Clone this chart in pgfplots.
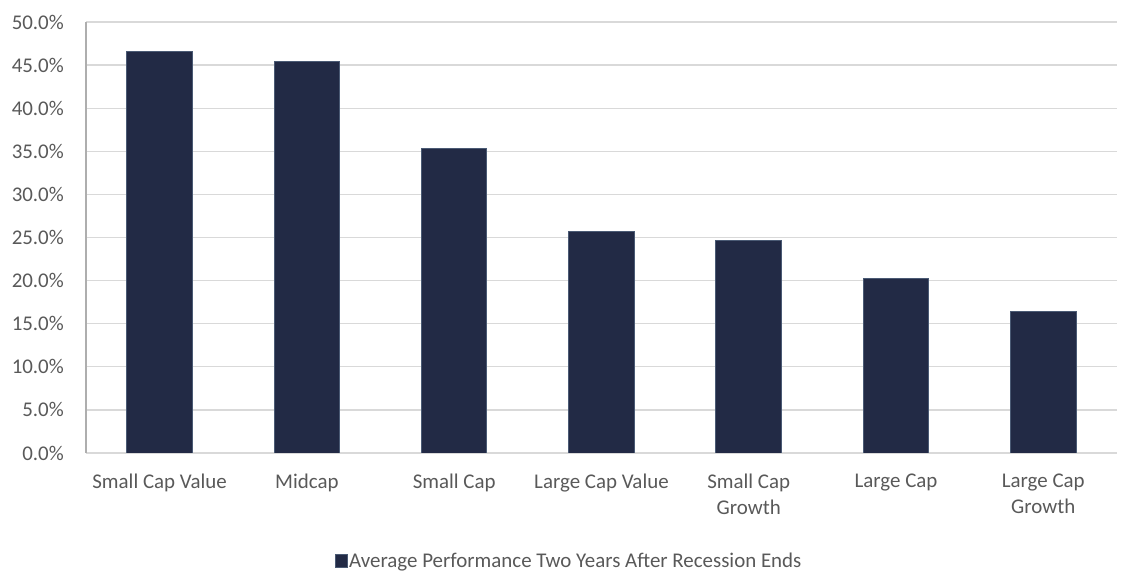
\documentclass[border=0pt]{standalone}
\usepackage{pgfplots}
\pgfplotsset{compat=1.18}
\usepackage{fontspec}
\setmainfont{Carlito}
\definecolor{barfill}{HTML}{222A45}
\definecolor{baredge}{HTML}{4A5A74}
\definecolor{gridc}{HTML}{D9D9D9}
\definecolor{txt}{HTML}{595959}
\begin{document}
\begin{tikzpicture}
\useasboundingbox (0,0) rectangle (1133bp,573bp);
\begin{axis}[
  at={(86bp,120bp)}, anchor=south west,
  scale only axis, width=1031bp, height=431bp,
  xmin=-0.5, xmax=6.5, ymin=0, ymax=50,
  axis x line*=bottom, axis y line*=left,
  axis line style={draw=gridc, line width=1.3bp},
  y axis line style={draw=gridc!80!black},
  ymajorgrids, grid style={draw=gridc, line width=1.3bp},
  major tick length=0pt,
  ytick={0,5,...,50},
  xtick={0,...,6},
  xticklabels={Small Cap Value, Midcap, Small Cap, Large Cap Value, {Small Cap\\Growth}, Large Cap, {Large Cap\\Growth}},
  yticklabel={\pgfmathprintnumber[fixed,fixed zerofill,precision=1]{\tick}\%},
  /pgf/number format/assume math mode=true,
  ticklabel style={font=\fontsize{21}{26}\selectfont, text=txt},
  yticklabel style={inner sep=0pt, xshift=-22bp},
  xticklabel style={align=center, inner sep=0pt, yshift=-21bp},
  legend style={at={(axis description cs:0.4685,-0.25)}, anchor=center, draw=none, font=\fontsize{21}{25.5}\selectfont, text=txt, inner sep=0pt},
  legend image code/.code={\fill[barfill, draw=baredge, line width=0.5bp] (0bp,-6bp) rectangle (12bp,6bp);},
  legend cell align=left,
]
\addplot[ybar, bar width=65.6bp, fill=barfill, draw=baredge, line width=1bp] coordinates {
(0,46.6) (1,45.4) (2,35.3) (3,25.7) (4,24.6) (5,20.2) (6,16.4)
};
\addlegendentry{Average Performance Two Years After Recession Ends}
\end{axis}
\end{tikzpicture}
\end{document}
